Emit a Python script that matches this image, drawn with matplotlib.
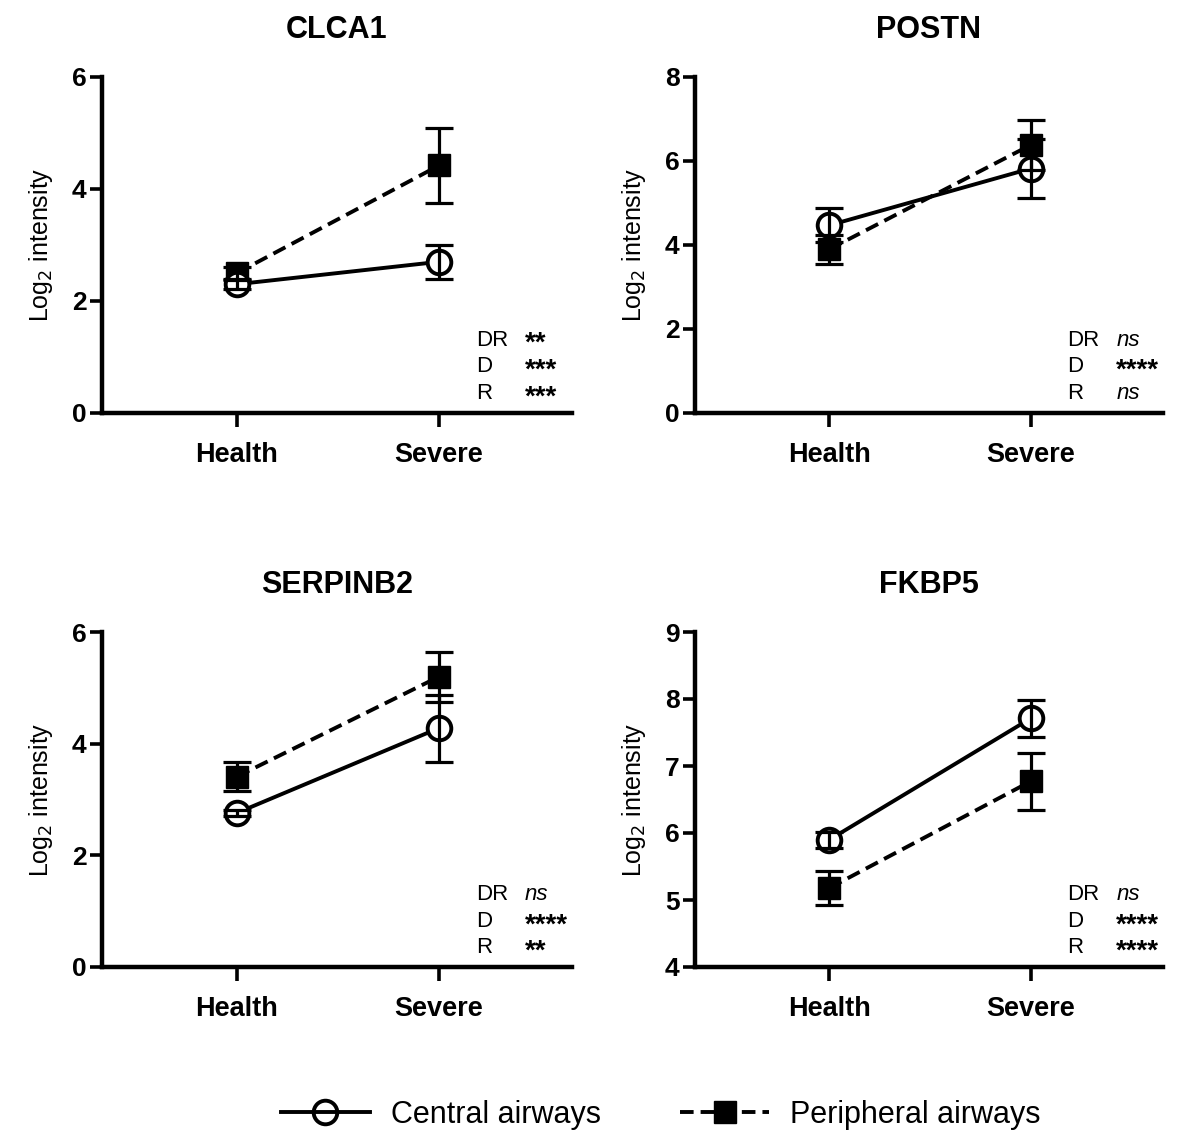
import matplotlib
matplotlib.use("Agg")
import matplotlib.pyplot as plt
from matplotlib.lines import Line2D

plt.rcParams['font.family'] = ['Liberation Sans', 'DejaVu Sans']

groups = ["Health", "Severe"]
genes = ["CLCA1", "POSTN", "SERPINB2", "FKBP5"]

central_mean = {"CLCA1": [2.30, 2.70], "POSTN": [4.47, 5.82],
                "SERPINB2": [2.76, 4.28], "FKBP5": [5.90, 7.71]}
central_err = {"CLCA1": [0.08, 0.30], "POSTN": [0.40, 0.70],
               "SERPINB2": [0.06, 0.60], "FKBP5": [0.12, 0.27]}
periph_mean = {"CLCA1": [2.50, 4.42], "POSTN": [3.90, 6.38],
               "SERPINB2": [3.41, 5.20], "FKBP5": [5.18, 6.77]}
periph_err = {"CLCA1": [0.10, 0.67], "POSTN": [0.35, 0.60],
              "SERPINB2": [0.26, 0.45], "FKBP5": [0.25, 0.42]}

yticks = {"CLCA1": [0, 2, 4, 6], "POSTN": [0, 2, 4, 6, 8],
          "SERPINB2": [0, 2, 4, 6], "FKBP5": [4, 5, 6, 7, 8, 9]}

stat_labels = ["DR", "D", "R"]
stats = {"CLCA1": ["**", "***", "***"], "POSTN": ["ns", "****", "ns"],
         "SERPINB2": ["ns", "****", "**"], "FKBP5": ["ns", "****", "****"]}

W, H = 1179, 1135
fig = plt.figure(figsize=(W / 100, H / 100), dpi=100)

# axes boxes in pixels: left, top, right, bottom
boxes = {"CLCA1": (102, 77, 572, 413), "POSTN": (695, 77, 1163, 413),
         "SERPINB2": (102, 632, 572, 967), "FKBP5": (695, 632, 1163, 967)}

LW = 2.8
DASH = (0, (3.5, 1.8))
for g in genes:
    l, t, r, b = boxes[g]
    ax = fig.add_axes([l / W, 1 - b / H, (r - l) / W, (b - t) / H])
    x = list(range(len(groups)))
    # peripheral
    ax.plot(x, periph_mean[g], color='black', lw=LW, ls=DASH,
            marker='s', ms=16, mfc='black', mec='black', zorder=3)
    ax.errorbar(x, periph_mean[g], yerr=periph_err[g], fmt='none',
                ecolor='black', elinewidth=2.3, capsize=10, capthick=2.3, zorder=5)
    # central
    ax.plot(x, central_mean[g], color='black', lw=LW, ls='-',
            marker='o', ms=17, mfc='white', mec='black', mew=2.8, zorder=4)
    ax.errorbar(x, central_mean[g], yerr=central_err[g], fmt='none',
                ecolor='black', elinewidth=2.3, capsize=10, capthick=2.3, zorder=6)

    yt = yticks[g]
    ax.set_ylim(yt[0], yt[-1])
    ax.set_xlim(-0.668, 1.658)
    ax.set_yticks(yt)
    ax.set_yticklabels([str(v) for v in yt], fontsize=19, fontweight='bold')
    ax.set_xticks(x)
    ax.set_xticklabels(groups, fontsize=19.5, fontweight='bold')
    for s in ['top', 'right']:
        ax.spines[s].set_visible(False)
    for s in ['left', 'bottom']:
        ax.spines[s].set_linewidth(3.2)
    ax.tick_params(axis='y', length=9, width=2.6, pad=2)
    ax.tick_params(axis='x', length=10, width=2.6, pad=11)
    ax.set_ylabel("Log$_2$ intensity", fontsize=18, labelpad=12)
    ax.set_title(g, fontsize=22, fontweight='bold', pad=28)

    rows_y = [0.217, 0.137, 0.057]
    for lab, st, yy in zip(stat_labels, stats[g], rows_y):
        ax.text(0.796, yy, lab, transform=ax.transAxes, fontsize=16,
                va='center', ha='left')
        if st == 'ns':
            ax.text(0.90, yy, st, transform=ax.transAxes, fontsize=16,
                    va='center', ha='left', style='italic')
        else:
            ax.text(0.90, yy - 0.012, st, transform=ax.transAxes, fontsize=20,
                    va='center', ha='left', fontweight='bold')

handles = [
    Line2D([0], [0], color='black', lw=LW, ls='-', marker='o', ms=17,
           mfc='none', mec='black', mew=2.8),
    Line2D([0], [0], color='black', lw=LW, ls=DASH, marker='s',
           ms=16, mfc='black', mec='black'),
]
fig.legend(handles, ["Central airways", "Peripheral airways"], loc='center',
           bbox_to_anchor=(661 / W, 1 - 1115 / H), ncol=2, frameon=False,
           fontsize=22, handlelength=2.9, handletextpad=0.7, columnspacing=2.6)

fig.savefig("out.png", dpi=100)
